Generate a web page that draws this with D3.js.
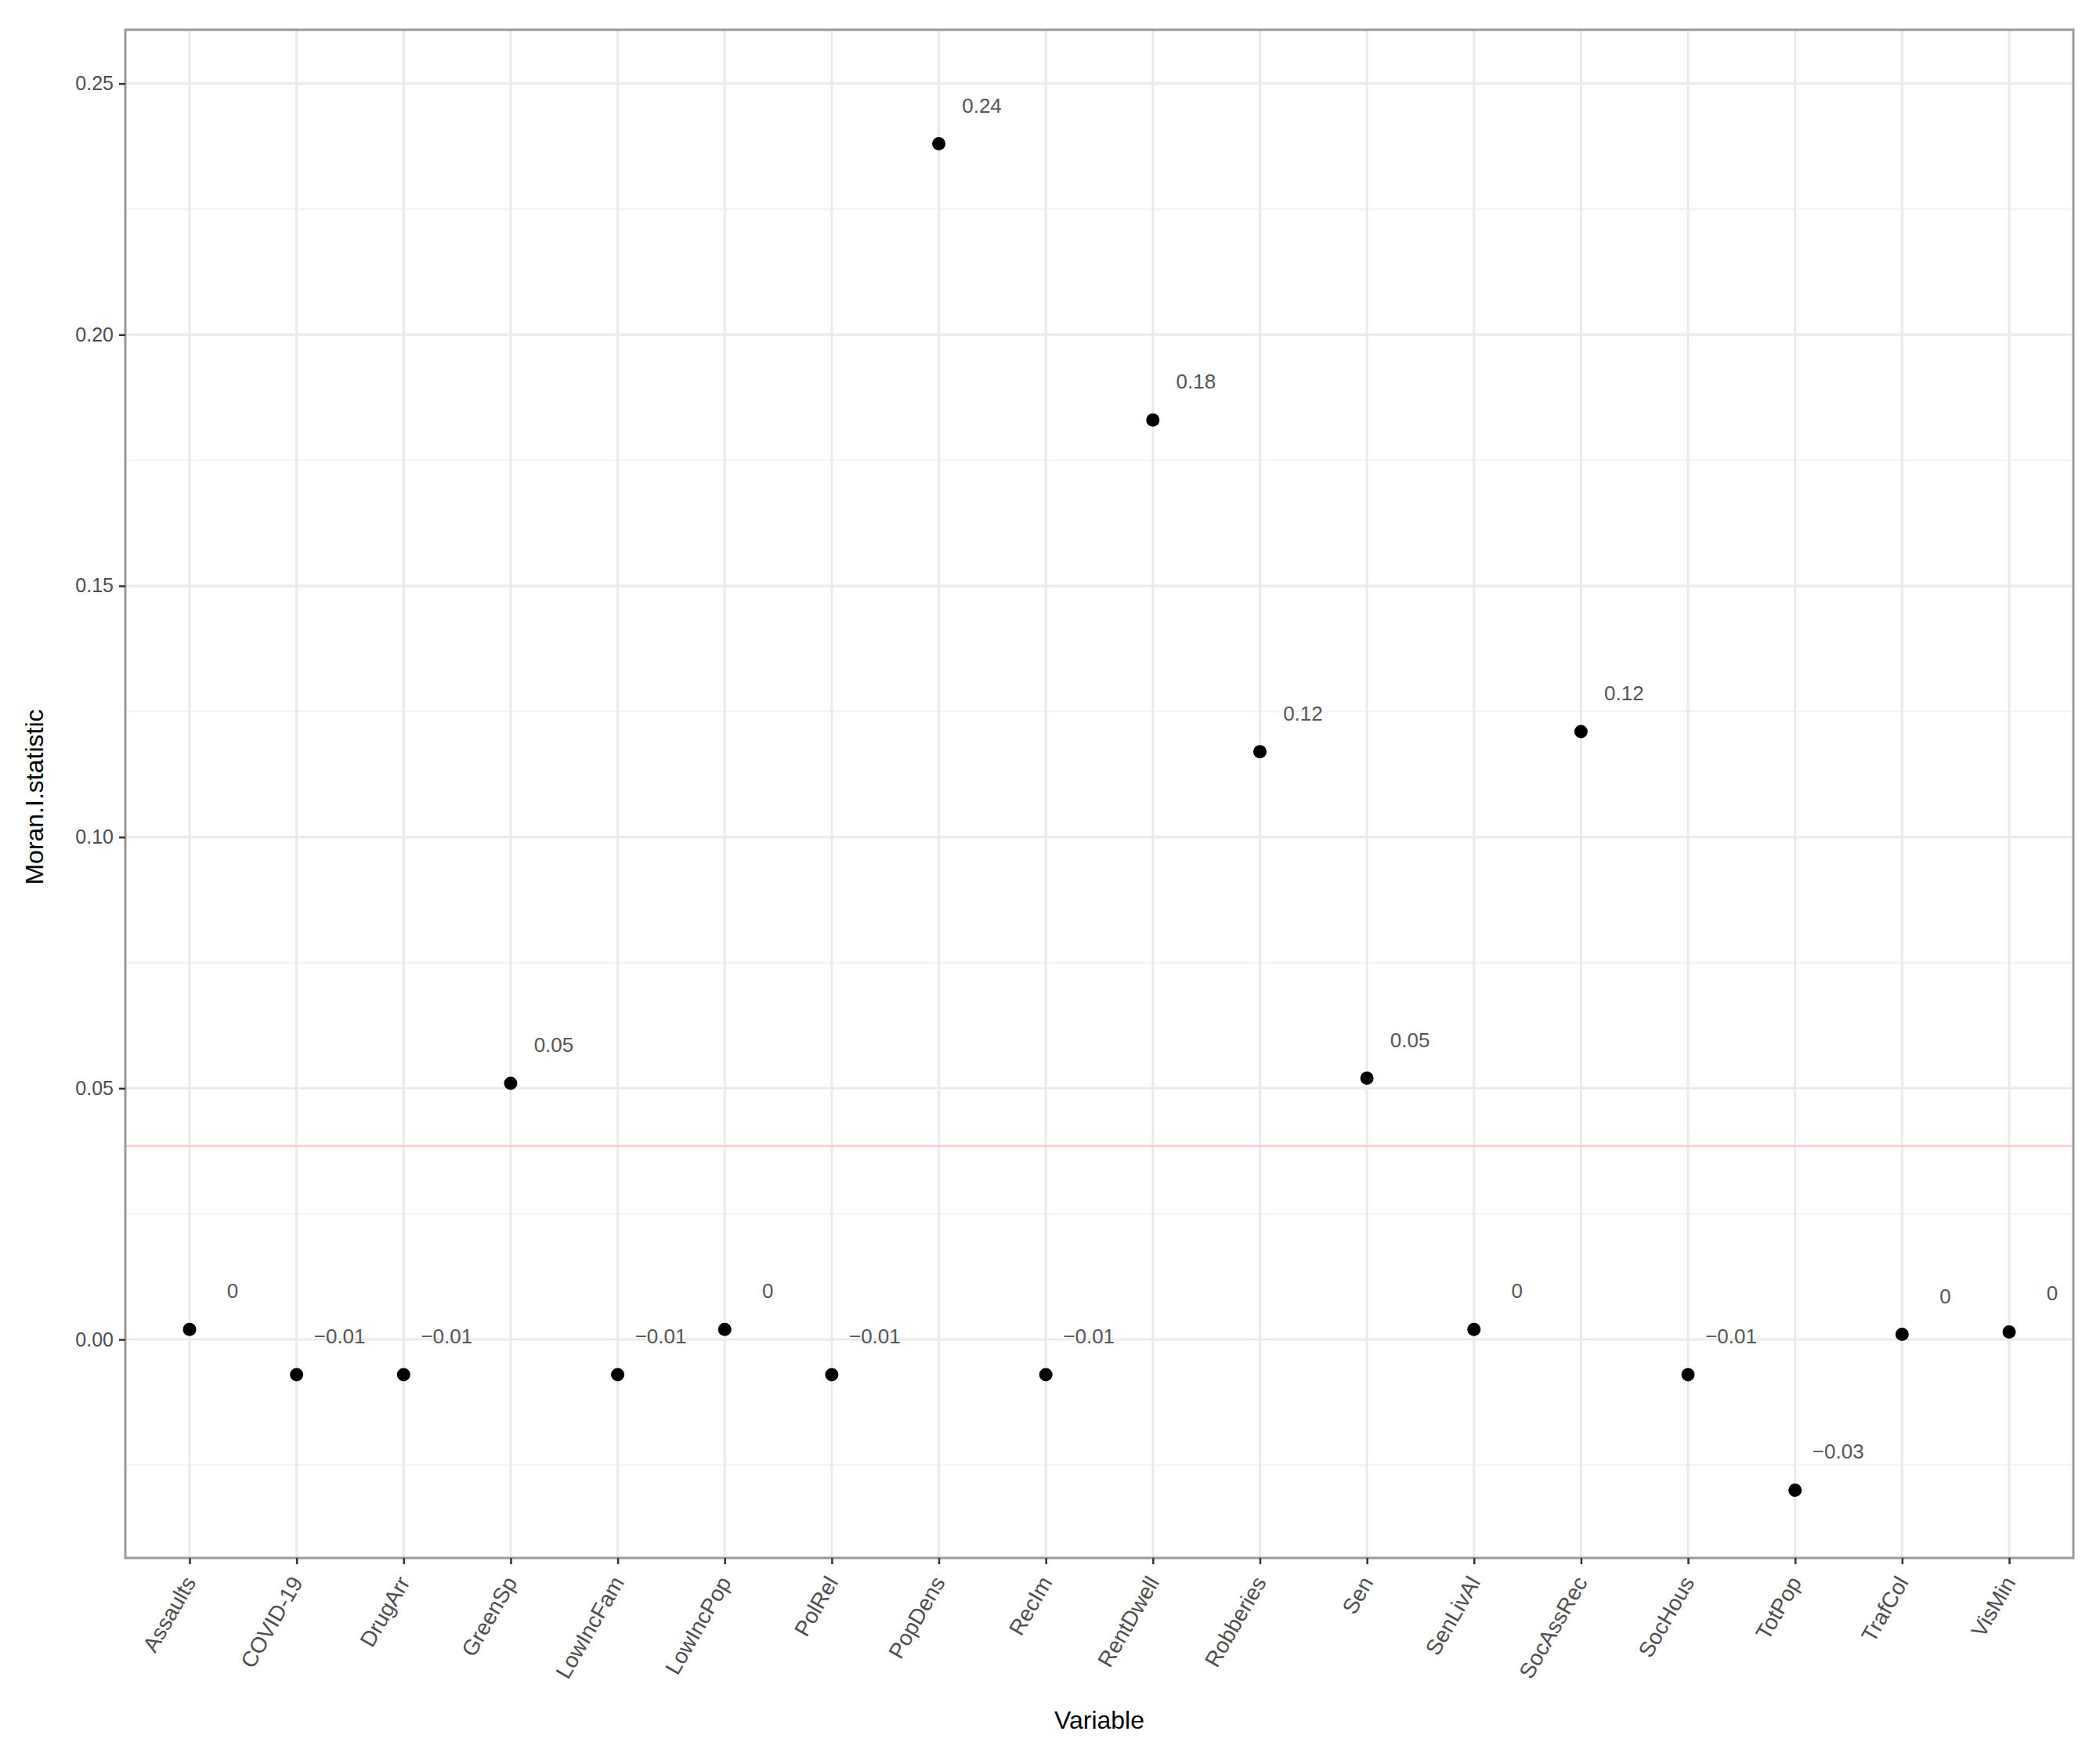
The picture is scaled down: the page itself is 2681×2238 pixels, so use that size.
<!DOCTYPE html>
<html>
<head>
<meta charset="utf-8">
<script src="https://cdn.jsdelivr.net/npm/d3@7"></script>
<style>
  body { margin: 0; background: #fff; }
  text { font-family: "Liberation Sans", Arial, sans-serif; }
</style>
</head>
<body>
<div id="chart"></div>
<script>
"use strict";

const variables = ['Assaults', 'COVID-19', 'DrugArr', 'GreenSp', 'LowIncFam', 'LowIncPop', 'PolRel',
  'PopDens', 'RecIm', 'RentDwell', 'Robberies', 'Sen', 'SenLivAl', 'SocAssRec', 'SocHous',
  'TotPop', 'TrafCol', 'VisMin'];
const moranI = [0.002, -0.007, -0.007, 0.051, -0.007, 0.002, -0.007, 0.238, -0.007, 0.183,
  0.117, 0.052, 0.002, 0.121, -0.007, -0.030, 0.001, 0.0015];
const pointLabels = ['0', '\u22120.01', '\u22120.01', '0.05', '\u22120.01', '0', '\u22120.01', '0.24',
  '\u22120.01', '0.18', '0.12', '0.05', '0', '0.12', '\u22120.01', '\u22120.03', '0', '0'];
const yTicks = [0.00, 0.05, 0.10, 0.15, 0.20, 0.25];
const yMinor = [-0.025, 0.025, 0.075, 0.125, 0.175, 0.225];
const refLine = 0.0385;

const W = 2681, H = 2238;
const margin = { top: 38, right: 34, bottom: 241, left: 160 };
const width = W - margin.left - margin.right;
const height = H - margin.top - margin.bottom;

const svg = d3.select('#chart').append('svg')
  .attr('width', W).attr('height', H)
  .append('g')
  .attr('transform', 'translate(' + margin.left + ',' + margin.top + ')');

const x = d3.scalePoint().domain(variables).range([0, width]).padding(0.6);
const y = d3.scaleLinear().domain([-0.0435, 0.2607]).range([height - 8, 0]);

// grid
svg.selectAll('.minor').data(yMinor).enter().append('line')
  .attr('x1', 0).attr('x2', width)
  .attr('y1', d => y(d)).attr('y2', d => y(d))
  .attr('stroke', '#f3f3f3').attr('stroke-width', 2);
svg.selectAll('.majorY').data(yTicks).enter().append('line')
  .attr('x1', 0).attr('x2', width)
  .attr('y1', d => y(d)).attr('y2', d => y(d))
  .attr('stroke', '#ebebeb').attr('stroke-width', 3);
svg.selectAll('.majorX').data(variables).enter().append('line')
  .attr('x1', d => x(d)).attr('x2', d => x(d))
  .attr('y1', 0).attr('y2', height - 8)
  .attr('stroke', '#ebebeb').attr('stroke-width', 3);

// reference line
svg.append('line')
  .attr('x1', 0).attr('x2', width)
  .attr('y1', y(refLine)).attr('y2', y(refLine))
  .attr('stroke', '#ffcccc').attr('stroke-width', 2.5);

// points
svg.selectAll('.pt').data(variables).enter().append('circle')
  .attr('cx', d => x(d))
  .attr('cy', (d, i) => y(moranI[i]))
  .attr('r', 8.5).attr('fill', '#000');

svg.selectAll('.lbl').data(variables).enter().append('text')
  .attr('x', d => x(d) + 55)
  .attr('y', (d, i) => y(moranI[i]) - 40)
  .attr('text-anchor', 'middle')
  .attr('font-size', 26).attr('fill', '#555')
  .text((d, i) => pointLabels[i]);

// panel border
svg.append('rect').attr('width', width).attr('height', height - 8)
  .attr('fill', 'none').attr('stroke', '#9a9a9a').attr('stroke-width', 3);

// axes
const yAxis = svg.append('g').call(d3.axisLeft(y).tickValues(yTicks).tickFormat(d3.format('.2f')).tickSize(8));
yAxis.select('.domain').remove();
yAxis.selectAll('line').attr('stroke', '#333').attr('stroke-width', 2.5);
yAxis.selectAll('text').attr('font-size', 25).attr('fill', '#4d4d4d').attr('dx', -4);

const xAxis = svg.append('g').attr('transform', 'translate(0,' + (height - 8) + ')')
  .call(d3.axisBottom(x).tickSize(8));
xAxis.select('.domain').remove();
xAxis.selectAll('line').attr('stroke', '#333').attr('stroke-width', 2.5);
xAxis.selectAll('text')
  .attr('font-size', 28).attr('fill', '#4d4d4d')
  .attr('text-anchor', 'end')
  .attr('dy', '0.35em').attr('y', 0)
  .attr('transform', 'translate(0,26) rotate(-60)');

// titles
svg.append('text')
  .attr('x', width / 2).attr('y', height + 210)
  .attr('text-anchor', 'middle').attr('font-size', 32).attr('fill', '#000')
  .text('Variable');
svg.append('text')
  .attr('transform', 'translate(' + (-105) + ',' + (height / 2) + ') rotate(-90)')
  .attr('text-anchor', 'middle').attr('font-size', 32).attr('fill', '#000')
  .text('Moran.I.statistic');
</script>
</body>
</html>
